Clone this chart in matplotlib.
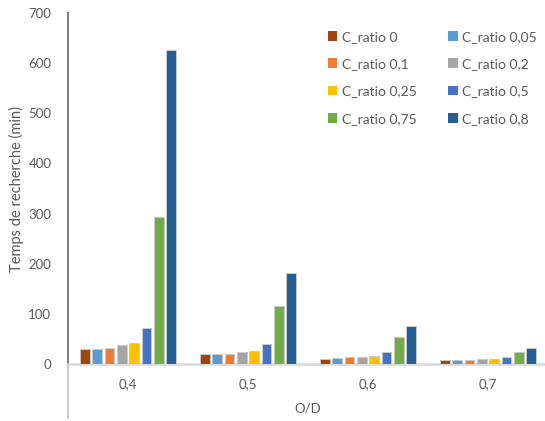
import numpy as np
import matplotlib.pyplot as plt
from matplotlib.lines import Line2D

plt.rcParams['font.family'] = ['Lato', 'DejaVu Sans']

# données
categories = ['0,4', '0,5', '0,6', '0,7']
series_labels = ['C_ratio 0', 'C_ratio 0,05', 'C_ratio 0,1', 'C_ratio 0,2',
                 'C_ratio 0,25', 'C_ratio 0,5', 'C_ratio 0,75', 'C_ratio 0,8']
c_0 = [29, 19, 10, 7]
c_005 = [30, 19, 12, 7]
c_01 = [32, 20, 14, 7]
c_02 = [38, 24, 14, 9]
c_025 = [41, 26, 16, 9]
c_05 = [72, 40, 24, 14]
c_075 = [294, 116, 54, 24]
c_08 = [627, 181, 75, 32]
values = [c_0, c_005, c_01, c_02, c_025, c_05, c_075, c_08]
colors = ['#9E480E', '#5B9BD5', '#ED7D31', '#A5A5A5',
          '#FFC000', '#4472C4', '#70AD47', '#255E91']

fig = plt.figure(figsize=(5.45, 4.21), dpi=100)
ax = fig.add_axes([68 / 545, 57 / 421, 480 / 545, 351 / 421])

x = np.arange(len(categories))
pitch = 0.103
width = 0.081
bars = []
for i, (vals, lab, col) in enumerate(zip(values, series_labels, colors)):
    off = (i - 3.5) * pitch
    b = ax.bar(x + off, vals, width, color=col, label=lab,
               edgecolor='#c9c9c9', linewidth=0.7, zorder=3)
    bars.append(b)

ax.set_xlim(-0.5, 3.5)
ax.set_ylim(0, 700)
ax.set_yticks(range(0, 701, 100))
ax.set_xticks(x)
ax.set_xticklabels(categories)
ax.tick_params(axis='both', length=0, colors='#595959', labelsize=9.5)
ax.tick_params(axis='x', pad=10)
ax.tick_params(axis='y', pad=12)

for s in ['top', 'right']:
    ax.spines[s].set_visible(False)
ax.spines['left'].set_color('#808080')
ax.spines['left'].set_linewidth(1.5)
ax.spines['bottom'].set_color('#d9d9d9')
ax.spines['bottom'].set_linewidth(1.8)

# prolongement de l'axe vertical sous l'axe des catégories
fig.add_artist(Line2D([68 / 545, 68 / 545], [3 / 421, 57 / 421],
                      color='#c0c0c0', linewidth=1.2))

ax.set_ylabel('Temps de recherche (min)', color='#595959', fontsize=10.5, labelpad=3)
ax.set_xlabel('O/D', color='#595959', fontsize=9.5, labelpad=9)

# ordre de la légende par lignes (comme Excel)
order = [0, 2, 4, 6, 1, 3, 5, 7]
leg = ax.legend([bars[i] for i in order], [series_labels[i] for i in order],
                ncol=2, loc='upper left', bbox_to_anchor=(0.515, 0.985),
                frameon=False, fontsize=10, handlelength=0.7, handleheight=0.7,
                handletextpad=0.3, columnspacing=2.3, labelspacing=1.1,
                labelcolor='#595959')
for h in leg.legend_handles:
    h.set_edgecolor('none')

fig.savefig('out.png', dpi=100)
